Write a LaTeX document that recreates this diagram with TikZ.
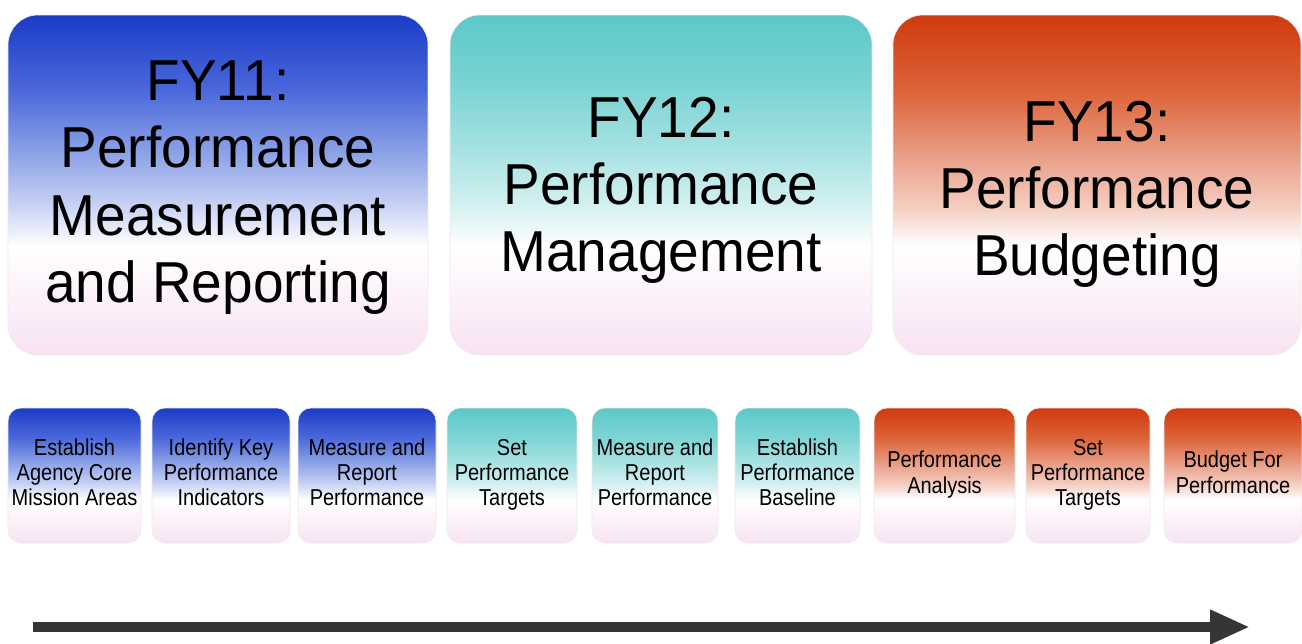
\documentclass[tikz,border=0pt]{standalone}
\usepackage{fontspec}
\setmainfont{Liberation Sans}
\usepackage{graphicx}
\usetikzlibrary{arrows.meta}
\definecolor{pinkb}{HTML}{F8E2F2}
\definecolor{pinkl}{HTML}{FCF2FA}
\definecolor{blued}{HTML}{1A3CC8}
\definecolor{bluem}{HTML}{4A68DA}
\definecolor{bluen}{HTML}{8AA0E6}
\definecolor{bluel}{HTML}{C8D2F4}
\definecolor{teald}{HTML}{5CC8C8}
\definecolor{tealm}{HTML}{7ED4D4}
\definecolor{tealn}{HTML}{A8E2E2}
\definecolor{teall}{HTML}{D4F0F0}
\definecolor{redd}{HTML}{D03A0E}
\definecolor{redm}{HTML}{DC6238}
\definecolor{redn}{HTML}{E89A80}
\definecolor{redl}{HTML}{F4CCC0}
\definecolor{arrowc}{HTML}{353535}
\pgfdeclareverticalshading{blueg}{100bp}{color(0bp)=(pinkb); color(25bp)=(pinkb); color(34bp)=(pinkl); color(41bp)=(white); color(47bp)=(bluel); color(55bp)=(bluen); color(64bp)=(bluem); color(75bp)=(blued); color(100bp)=(blued)}
\pgfdeclareverticalshading{tealg}{100bp}{color(0bp)=(pinkb); color(25bp)=(pinkb); color(34bp)=(pinkl); color(41bp)=(white); color(47bp)=(teall); color(55bp)=(tealn); color(64bp)=(tealm); color(75bp)=(teald); color(100bp)=(teald)}
\pgfdeclareverticalshading{redg}{100bp}{color(0bp)=(pinkb); color(25bp)=(pinkb); color(34bp)=(pinkl); color(41bp)=(white); color(47bp)=(redl); color(55bp)=(redn); color(64bp)=(redm); color(75bp)=(redd); color(100bp)=(redd)}
\newcommand{\bigtxt}[1]{\scalebox{1}[1.05]{\fontsize{55}{64}\selectfont\begin{tabular}{@{}c@{}}#1\end{tabular}}}
\newcommand{\smtxt}[1]{\scalebox{1}[1.15]{\fontsize{20}{22}\selectfont\begin{tabular}{@{}c@{}}#1\end{tabular}}}
\tikzset{
  bigbox/.style={rounded corners=30pt, minimum height=340pt, inner sep=0pt, draw=black!8, line width=0.6pt},
  smbox/.style={rounded corners=13pt, minimum height=135pt, inner sep=0pt, draw=black!8, line width=0.6pt},
  bigtext/.style={inner sep=0pt},
  timeline/.style={draw=arrowc, line width=10pt, -{Triangle[length=40pt,width=32pt]}}
}
\begin{document}
\begin{tikzpicture}[x=1pt,y=-1pt]
\useasboundingbox (0,0) rectangle (1302,643);
% big boxes
\node[bigbox, shading=blueg, minimum width=420pt] (fy11) at (218,185) {};
\node[bigbox, shading=tealg, minimum width=422pt] (fy12) at (661,185) {};
\node[bigbox, shading=redg, minimum width=408pt] (fy13) at (1097,185) {};
\node[bigtext] (fy11t) at ([yshift=-3pt]fy11.center) {\bigtxt{FY11:\\Performance\\Measurement\\and Reporting}};
\node[bigtext] (fy12t) at ([yshift=-6pt]fy12.center) {\bigtxt{FY12:\\Performance\\Management}};
\node[bigtext] (fy13t) at ([yshift=-10pt]fy13.center) {\bigtxt{FY13:\\Performance\\Budgeting}};
% small boxes
\node[smbox, shading=blueg, minimum width=133pt] (s1) at (74.5,475.5) {\smtxt{Establish\\Agency Core\\Mission Areas}};
\node[smbox, shading=blueg, minimum width=138pt] (s2) at (221,475.5) {\smtxt{Identify Key\\Performance\\Indicators}};
\node[smbox, shading=blueg, minimum width=138pt] (s3) at (367,475.5) {\smtxt{Measure and\\Report\\Performance}};
\node[smbox, shading=tealg, minimum width=130pt] (s4) at (512,475.5) {\smtxt{Set\\Performance\\Targets}};
\node[smbox, shading=tealg, minimum width=126pt] (s5) at (655,475.5) {\smtxt{Measure and\\Report\\Performance}};
\node[smbox, shading=tealg, minimum width=125pt] (s6) at (797.5,475.5) {\smtxt{Establish\\Performance\\Baseline}};
\node[smbox, shading=redg, minimum width=141pt] (s7) at (944.5,475.5) {\smtxt{Performance\\Analysis}};
\node[smbox, shading=redg, minimum width=124pt] (s8) at (1088,475.5) {\smtxt{Set\\Performance\\Targets}};
\node[smbox, shading=redg, minimum width=138pt] (s9) at (1233,475.5) {\smtxt{Budget For\\Performance}};
% timeline arrow
\coordinate (as) at (33,627);
\coordinate (ae) at (1250,627);
\draw[timeline] (as) -- (ae);
\end{tikzpicture}
\end{document}
